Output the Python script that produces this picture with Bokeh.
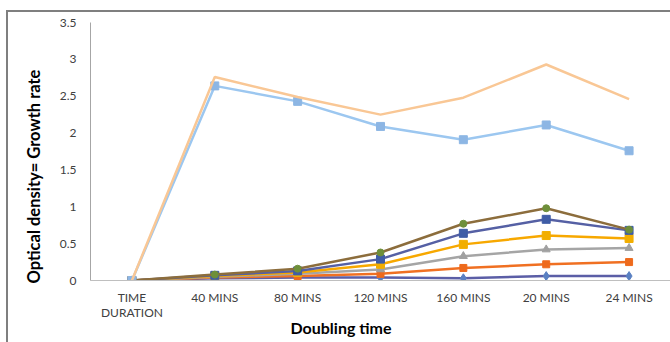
from bokeh.plotting import figure
from bokeh.models import Range1d, SingleIntervalTicker, FixedTicker, Title, InlineStyleSheet
from bokeh.embed import file_html
from bokeh.resources import INLINE

categories = ["TIME DURATION", "40 MINS", "80 MINS", "120 MINS", "160 MINS", "20 MINS", "24 MINS"]
tick_labels = ["TIME\nDURATION", "40 MINS", "80 MINS", "120 MINS", "160 MINS", "20 MINS", "24 MINS"]
peach = [0, 2.76, 2.49, 2.25, 2.48, 2.93, 2.46]
light_blue = [0, 2.64, 2.43, 2.09, 1.91, 2.11, 1.76]
brown = [0, 0.08, 0.16, 0.38, 0.77, 0.98, 0.69]
navy = [0, 0.07, 0.13, 0.29, 0.64, 0.83, 0.68]
amber = [0, 0.06, 0.11, 0.22, 0.49, 0.61, 0.57]
grey = [0, 0.05, 0.09, 0.15, 0.33, 0.42, 0.44]
orange = [0, 0.04, 0.06, 0.09, 0.17, 0.22, 0.25]
violet = [0, 0.03, 0.04, 0.04, 0.03, 0.06, 0.06]

FONT = "Lato"
xs = list(range(len(categories)))

p = figure(width=670, height=342, x_range=Range1d(-0.5, len(categories) - 0.5), y_range=Range1d(0, 3.5),
           output_backend="svg", toolbar_location=None,
           min_border_left=90, min_border_right=0, min_border_top=22, min_border_bottom=62)
p.outline_line_color = None
p.xgrid.grid_line_color = None
p.ygrid.grid_line_color = None

# series (bottom to top)
p.line(xs, violet, line_color="#5B5EA6", line_width=2.5)
p.scatter(xs, violet, marker="diamond", size=9, fill_color="#5A80C2", line_color="#5A80C2")

p.line(xs, orange, line_color="#F07022", line_width=2.5)
p.scatter(xs, orange, marker="square", size=7, fill_color="#EE6A1C", line_color="#EE6A1C")

p.line(xs, grey, line_color="#A5A5A5", line_width=2.5)
p.scatter(xs, grey, marker="triangle", size=8, fill_color="#A0A0A0", line_color="#A0A0A0")

p.line(xs, amber, line_color="#F7A800", line_width=2.5)
p.scatter(xs, amber, marker="square", size=8, fill_color="#F2AE00", line_color="#F2AE00")

p.line(xs, navy, line_color="#5560A4", line_width=2.5)
p.scatter(xs, navy, marker="square", size=8, fill_color="#3F5DA6", line_color="#3F5DA6")

p.line(xs, brown, line_color="#8C6D3C", line_width=2.5)
p.scatter(xs, brown, marker="circle", size=7, fill_color="#6E8F3A", line_color="#6E8F3A")

p.line(xs, light_blue, line_color="#9CC7F0", line_width=2.5)
p.scatter(xs, light_blue, marker="square", size=8, fill_color="#8DB6E4", line_color="#8DB6E4")

p.line(xs, peach, line_color="#F9C795", line_width=2.5)

# axes
ya = p.yaxis[0]
ya.ticker = SingleIntervalTicker(interval=0.5)
ya.axis_line_color = "#A6A6A6"
ya.major_tick_line_color = None
ya.minor_tick_line_color = None
ya.major_label_standoff = 8
ya.major_label_text_font = FONT
ya.major_label_text_font_size = "12px"
ya.major_label_text_color = "#404040"

xa = p.xaxis[0]
xa.ticker = FixedTicker(ticks=xs)
xa.axis_line_color = "#BFBFBF"
xa.major_tick_line_color = None
xa.minor_tick_line_color = None
xa.major_label_standoff = 3
xa.major_label_text_font = FONT
xa.major_label_text_font_size = "12px"
xa.major_label_text_line_height = 1.0
xa.major_label_text_color = "#404040"
xa.major_label_overrides = {i: t for i, t in zip(xs, tick_labels)}

# axis titles
p.add_layout(Title(text="Optical  density= Growth rate", align="left", offset=-3, standoff=26,
                   text_font=FONT, text_font_style="bold", text_font_size="16.5px",
                   text_color="#000000"), "left")
p.add_layout(Title(text="Doubling time", align="left", offset=200, standoff=-13,
                   text_font=FONT, text_font_style="bold", text_font_size="16px",
                   text_color="#000000"), "below")

# outer chart border (left and top edges visible)
p.stylesheets = [InlineStyleSheet(css=""":host::after {
  content: ""; position: absolute; left: 6px; top: 10px; width: 800px; height: 800px;
  border-left: 2px solid #7F7F7F; border-top: 2px solid #7F7F7F;
  pointer-events: none; box-sizing: border-box; }""")]

open("out.html", "w").write(file_html(p, INLINE))
